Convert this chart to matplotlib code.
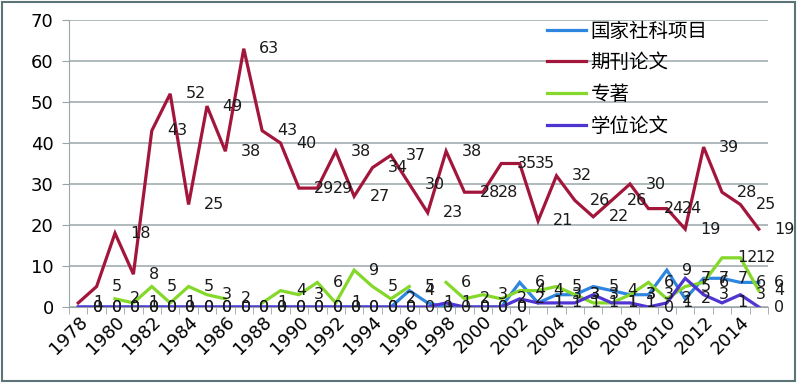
import numpy as np
import matplotlib.pyplot as plt
from matplotlib.patches import Rectangle

# Data (NaN = no value in that year)
years = list(range(1978, 2016))
nan = np.nan

journal = [1, 5, 18, 8, 43, 52, 25, 49, 38, 63, 43, 40, 29, 29, 38, 27, 34, 37, 30,
           23, 38, 28, 28, 35, 35, 21, 32, 26, 22, 26, 30, 24, 24, 19, 39, 28, 25, 19]
project = [0, 0, 0, 0, 0, 0, 0, 0, 0, 0, 0, 0, 0, 0, 0, 0, 0, 0, 4,
           1, 0, 0, 0, 0, 6, 1, 3, 3, 5, 4, 3, 3, 9, 2, 7, 7, 6, 6]
book = [nan, nan, 2, 1, 5, 1, 5, 3, 2, nan, 1, 4, 3, 6, 1, 9, 5, 2, 5,
        nan, 6, 2, 3, 2, 4, 4, 5, 3, 1, 1, 3, 6, 2, 5, 6, 12, 12, 4]
thesis = [0, 0, 0, 0, 0, 0, 0, 0, 0, 0, 0, 0, 0, 0, 0, 0, 0, 0, 0,
          0, 1, 0, 0, 0, 2, 1, 1, 1, 3, 1, 1, 0, 1, 7, 3, 1, 3, 0]

series_names = ['国家社科项目', '期刊论文', '专著', '学位论文']
series_data = [project, journal, book, thesis]
series_colors = ['#2f86e0', '#a3163c', '#84d82a', '#5034d2']

plt.rcParams['font.family'] = ['DejaVu Sans']

fig = plt.figure(figsize=(7.97, 3.83), dpi=100)
ax = fig.add_axes([0.0866, 0.1984, 0.877, 0.7494])

for name, vals, col in zip(series_names, series_data, series_colors):
    ax.plot(years, vals, color=col, linewidth=2.3, label=name, solid_joinstyle='miter')

# data labels to the right of each point, like the spreadsheet chart
for vals in series_data:
    for yr, v in zip(years, vals):
        if np.isnan(v):
            continue
        ax.annotate(f'{int(v)}', (yr, v), xytext=(11, 0), textcoords='offset points',
                    ha='left', va='center', fontsize=11.5, color='#1a1a1a',
                    annotation_clip=False)

ax.set_xlim(1977.5, 2015.5)
ax.set_ylim(0, 70)
ax.set_yticks(range(0, 71, 10))
ax.set_xticks(range(1978, 2015, 2))
ax.set_xticks(np.arange(1977.5, 2016, 1), minor=True)
ax.tick_params(axis='x', which='major', length=0, labelsize=13, pad=4)
ax.tick_params(axis='x', which='minor', length=5, color='#9aa5a8', direction='out')
ax.tick_params(axis='y', length=5, color='#9aa5a8', labelsize=13, pad=6)
for lab in ax.get_xticklabels():
    lab.set_rotation(45)
    lab.set_ha('right')
    lab.set_va('top')
    lab.set_rotation_mode('anchor')

ax.grid(axis='y', color='#9aa5a8', linewidth=1.1)
ax.set_axisbelow(True)
for side in ['top', 'right']:
    ax.spines[side].set_visible(False)
ax.spines['left'].set_color('#9aa5a8')
ax.spines['bottom'].set_color('#9aa5a8')

leg = ax.legend(loc='upper left', bbox_to_anchor=(0.664, 0.992), bbox_transform=fig.transFigure,
                frameon=False, handlelength=2.0, labelspacing=0.55, handletextpad=0.25,
                prop={'family': ['Noto Sans CJK SC', 'DejaVu Sans'], 'size': 14})

# outer chart border
fig.patches.append(Rectangle((0.003, 0.004), 0.994, 0.992, transform=fig.transFigure,
                             fill=False, edgecolor='#5c7478', linewidth=1.5))

fig.savefig('out.png', dpi=100)
